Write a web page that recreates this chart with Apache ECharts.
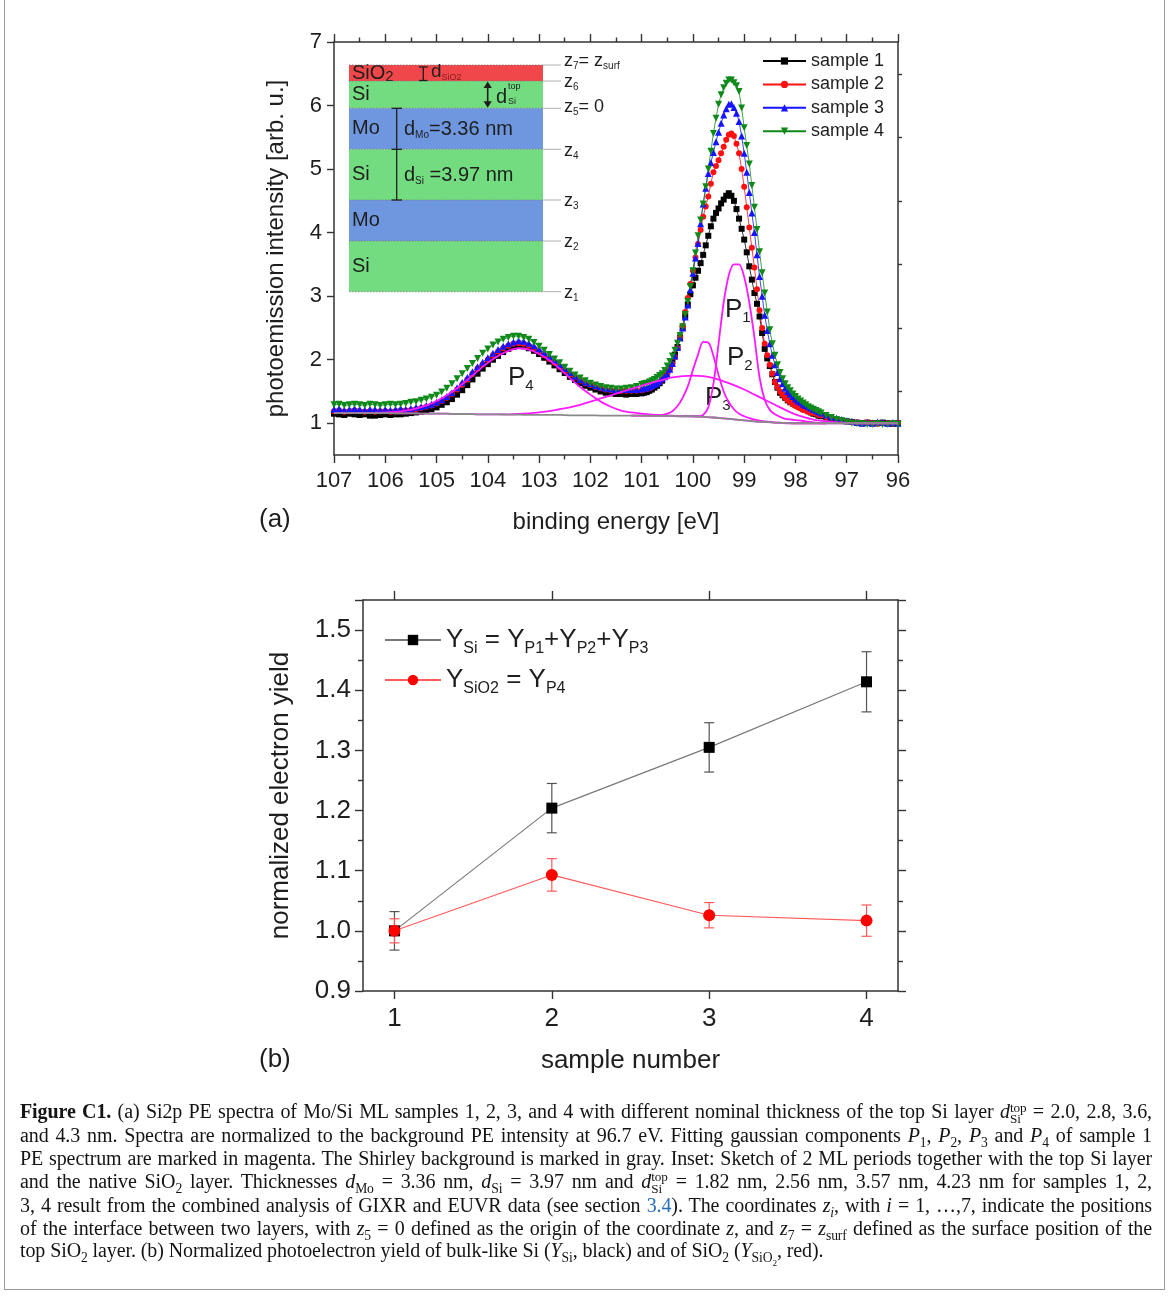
<!DOCTYPE html>
<html>
<head>
<meta charset="utf-8">
<script src="https://cdn.jsdelivr.net/npm/echarts@6/dist/echarts.min.js"></script>
<style>
html, body { margin: 0; padding: 0; background: #fff; }
#wrap { position: relative; width: 1171px; height: 1297px; overflow: hidden; }
#chart { position: absolute; left: 0; top: 0; width: 1171px; height: 1297px; }
#frame { position: absolute; left: 4px; top: -4px; width: 1161px; height: 1294px; border: 1px solid #9a9a9a; box-sizing: border-box; pointer-events: none; }
#caption { position: absolute; left: 20px; top: 1100px; width: 1132px; font-family: "Liberation Serif", "DejaVu Serif", serif; font-size: 20px; line-height: 22.7px; color: #141414; letter-spacing: -0.1px; }
.ln { display: block; white-space: nowrap; text-align: justify; text-align-last: justify; }
.ln.last { text-align-last: left; }
sub, sup { font-size: 0.68em; line-height: 0; }
.ss { display: inline-block; vertical-align: -0.38em; font-size: 0.66em; line-height: 0.85em; text-align: left; }
.ss span { display: block; }
.ref { color: #2a6ebb; }
</style>
</head>
<body>
<div id="wrap">
  <div id="chart"></div>
  <div id="frame"></div>
  <div id="caption">
    <span class="ln"><b>Figure C1.</b> (a) Si2p PE spectra of Mo/Si ML samples 1, 2, 3, and 4 with different nominal thickness of the top Si layer <i>d</i><span class="ss"><span>top</span><span>Si</span></span> = 2.0, 2.8, 3.6,</span>
    <span class="ln">and 4.3 nm. Spectra are normalized to the background PE intensity at 96.7 eV. Fitting gaussian components <i>P</i><sub>1</sub>, <i>P</i><sub>2</sub>, <i>P</i><sub>3</sub> and <i>P</i><sub>4</sub> of sample 1</span>
    <span class="ln">PE spectrum are marked in magenta. The Shirley background is marked in gray. Inset: Sketch of 2 ML periods together with the top Si layer</span>
    <span class="ln">and the native SiO<sub>2</sub> layer. Thicknesses <i>d</i><sub>Mo</sub> = 3.36 nm, <i>d</i><sub>Si</sub> = 3.97 nm and <i>d</i><span class="ss"><span>top</span><span>Si</span></span> = 1.82 nm, 2.56 nm, 3.57 nm, 4.23 nm for samples 1, 2,</span>
    <span class="ln">3, 4 result from the combined analysis of GIXR and EUVR data (see section <span class="ref">3.4</span>). The coordinates <i>z<sub>i</sub></i>, with <i>i</i> = 1, &hellip;,7, indicate the positions</span>
    <span class="ln">of the interface between two layers, with <i>z</i><sub>5</sub> = 0 defined as the origin of the coordinate <i>z</i>, and <i>z</i><sub>7</sub> = <i>z</i><sub>surf</sub> defined as the surface position of the</span>
    <span class="ln last">top SiO<sub>2</sub> layer. (b) Normalized photoelectron yield of bulk-like Si (<i>Y</i><sub>Si</sub>, black) and of SiO<sub>2</sub> (<i>Y</i><sub>SiO<sub>2</sub></sub>, red).</span>
  </div>
</div>
<script>
// sampling grid of the spectra (binding energy, eV, high -> low); finer across the Si2p peak
const grid = (start, stop, step) => {
	const out = [];
	const n = Math.round((start - stop) / step);
	for (let i = 0; i <= n; i++) out.push(+(start - i * step).toFixed(2));
	return out;
};
const specEnergy = [...grid(107, 101.1, 0.1), ...grid(101, 97.5, 0.05), ...grid(97.4, 96, 0.1)];
const fitEnergy = grid(107, 96, 0.2);
const peakEnergy = grid(101.2, 97.4, 0.1);

const sample1 = [
	1.15,1.14,1.13,1.15,1.14,1.13,1.14,1.12,1.12,1.13,
	1.14,1.13,1.14,1.14,1.15,1.16,1.17,1.18,1.20,1.22,
	1.25,1.29,1.33,1.38,1.45,1.52,1.60,1.69,1.78,1.86,
	1.93,2.00,2.06,2.12,2.17,2.20,2.22,2.21,2.18,2.14,
	2.09,2.03,1.97,1.91,1.85,1.79,1.73,1.68,1.63,1.59,
	1.56,1.53,1.50,1.48,1.47,1.46,1.46,1.45,1.46,1.46,
	1.47,1.48,1.49,1.51,1.53,1.56,1.59,1.63,1.67,1.74,
	1.82,1.89,1.98,2.08,2.20,2.35,2.50,2.69,2.87,3.03,
	3.17,3.29,3.40,3.52,3.65,3.80,3.95,4.10,4.22,4.31,
	4.38,4.46,4.52,4.58,4.62,4.58,4.50,4.37,4.22,4.06,
	3.89,3.69,3.47,3.26,3.05,2.88,2.68,2.42,2.17,2.02,
	1.90,1.77,1.65,1.56,1.48,1.44,1.40,1.36,1.33,1.31,
	1.29,1.27,1.25,1.23,1.21,1.19,1.17,1.15,1.14,1.12,
	1.11,
	1.09,1.07,1.05,1.04,1.03,1.02,1.01,1.00,1.01,1.00,1.00,1.01,1.00,0.99,1.00
];
const sample2 = [
	1.19,1.20,1.18,1.19,1.20,1.19,1.18,1.19,1.18,1.19,
	1.19,1.18,1.19,1.20,1.20,1.21,1.22,1.24,1.26,1.28,
	1.31,1.35,1.40,1.46,1.53,1.61,1.69,1.78,1.86,1.93,
	2.00,2.07,2.13,2.18,2.22,2.25,2.26,2.25,2.22,2.18,
	2.13,2.07,2.01,1.95,1.89,1.83,1.77,1.72,1.67,1.63,
	1.60,1.57,1.55,1.53,1.52,1.51,1.51,1.51,1.51,1.51,
	1.52,1.53,1.54,1.55,1.57,1.60,1.62,1.65,1.69,1.73,
	1.78,1.85,1.93,2.04,2.18,2.35,2.53,2.75,2.97,3.19,
	3.40,3.61,3.82,4.04,4.25,4.41,4.57,4.77,4.95,5.05,
	5.14,5.25,5.35,5.46,5.54,5.56,5.52,5.40,5.25,5.00,
	4.72,4.40,4.08,3.76,3.45,3.11,2.78,2.50,2.25,2.07,
	1.92,1.78,1.65,1.57,1.50,1.45,1.40,1.36,1.33,1.30,
	1.27,1.25,1.23,1.21,1.20,1.18,1.17,1.16,1.15,1.13,
	1.12,
	1.10,1.08,1.06,1.05,1.03,1.02,1.01,1.00,1.01,1.00,0.99,1.00,1.00,0.99,1.00
];
const sample3 = [
	1.22,1.23,1.21,1.22,1.23,1.22,1.21,1.22,1.22,1.21,
	1.22,1.21,1.22,1.23,1.22,1.23,1.25,1.26,1.28,1.30,
	1.33,1.37,1.42,1.48,1.56,1.64,1.72,1.81,1.89,1.96,
	2.03,2.10,2.16,2.21,2.25,2.28,2.30,2.29,2.26,2.22,
	2.17,2.11,2.05,1.99,1.92,1.86,1.80,1.74,1.69,1.65,
	1.62,1.59,1.57,1.55,1.54,1.53,1.53,1.53,1.53,1.53,
	1.54,1.55,1.56,1.57,1.59,1.61,1.63,1.66,1.70,1.73,
	1.77,1.85,1.94,2.06,2.19,2.34,2.50,2.67,2.86,3.10,
	3.36,3.60,3.83,4.14,4.45,4.70,4.93,5.10,5.26,5.43,
	5.58,5.72,5.85,5.95,6.02,6.03,5.97,5.88,5.75,5.52,
	5.25,4.95,4.63,4.31,4.00,3.65,3.31,3.00,2.70,2.46,
	2.25,2.07,1.92,1.80,1.70,1.62,1.55,1.50,1.46,1.42,
	1.38,1.35,1.33,1.30,1.28,1.26,1.24,1.22,1.20,1.18,
	1.16,
	1.13,1.10,1.08,1.06,1.04,1.03,1.01,1.00,1.01,1.00,1.02,1.01,1.00,1.01,1.00
];
const sample4 = [
	1.29,1.30,1.28,1.29,1.30,1.29,1.28,1.30,1.29,1.28,
	1.29,1.30,1.29,1.30,1.31,1.33,1.34,1.36,1.38,1.41,
	1.44,1.49,1.55,1.62,1.70,1.78,1.86,1.94,2.02,2.10,
	2.17,2.23,2.28,2.32,2.35,2.37,2.37,2.35,2.32,2.27,
	2.21,2.15,2.08,2.01,1.95,1.88,1.82,1.76,1.71,1.67,
	1.63,1.60,1.58,1.56,1.55,1.54,1.54,1.55,1.56,1.58,
	1.61,1.62,1.63,1.65,1.67,1.69,1.72,1.75,1.78,1.83,
	1.90,1.97,2.06,2.15,2.26,2.38,2.52,2.71,2.92,3.15,
	3.40,3.68,3.95,4.20,4.45,4.72,5.00,5.28,5.56,5.80,
	6.02,6.17,6.28,6.35,6.40,6.40,6.36,6.31,6.22,5.96,
	5.65,5.37,5.08,4.74,4.40,4.05,3.70,3.37,3.05,2.75,
	2.47,2.25,2.07,1.92,1.80,1.70,1.62,1.56,1.51,1.46,
	1.42,1.38,1.35,1.32,1.29,1.26,1.24,1.22,1.20,1.18,
	1.16,
	1.12,1.09,1.06,1.04,1.02,1.00,0.99,0.99,0.98,0.98,0.99,0.98,0.98,0.99,0.98
];

// (a) fit of sample 1: Shirley background and gaussian components
const shirley = [
	1.16,1.16,1.16,1.16,1.16,1.16,1.155,1.155,1.155,1.15,1.15,
	1.15,1.145,1.145,1.14,1.14,1.14,1.135,1.135,1.13,1.13,
	1.13,1.13,1.125,1.125,1.125,1.12,1.12,1.12,1.12,1.12,
	1.115,1.115,1.115,1.11,1.11,1.10,1.09,1.075,1.06,1.045,
	1.03,1.02,1.01,1.005,1.0,1.0,1.0,1.0,1.0,1.0,
	1.0,1.0,1.0,1.0,1.0
];
const fitP4 = [
	1.16,1.16,1.16,1.162,1.165,1.17,1.18,1.20,1.23,1.28,1.35,
	1.44,1.55,1.68,1.82,1.95,2.06,2.14,2.18,2.16,2.09,
	1.99,1.86,1.71,1.57,1.45,1.34,1.26,1.20,1.17,1.15,
	1.135,1.125,1.12,1.112,1.11,1.10,1.09,1.075,1.06,1.045,
	1.03,1.02,1.01,1.005,1.0,1.0,1.0,1.0,1.0,1.0,
	1.0,1.0,1.0,1.0,1.0
];
const fitP3 = [
	1.16,1.16,1.16,1.16,1.16,1.16,1.155,1.155,1.155,1.15,1.15,
	1.15,1.145,1.145,1.14,1.14,1.14,1.14,1.145,1.155,1.17,
	1.19,1.22,1.25,1.29,1.34,1.39,1.44,1.49,1.54,1.59,
	1.64,1.68,1.72,1.74,1.75,1.74,1.71,1.66,1.60,1.53,
	1.45,1.37,1.29,1.21,1.14,1.09,1.05,1.03,1.015,1.005,
	1.0,1.0,1.0,1.0,1.0
];
const fitP2 = [
	1.12,1.12,1.12,1.12,1.12,1.125,1.13,1.15,1.19,1.27,
	1.40,1.58,1.84,2.08,2.28,2.27,2.06,1.76,1.50,1.33,
	1.22,1.15,1.11,1.08,1.06,1.04,1.03,1.02,1.01,1.01,
	1.0,1.0,1.0,1.0,1.0,1.0,1.0,1.0,1.0
];
const fitP1 = [
	1.12,1.12,1.12,1.12,1.12,1.12,1.115,1.115,1.115,1.11,
	1.11,1.11,1.11,1.11,1.13,1.25,1.62,2.25,2.90,3.33,
	3.50,3.50,3.30,2.90,2.35,1.72,1.37,1.21,1.14,1.10,
	1.07,1.06,1.05,1.04,1.03,1.02,1.01,1.0,1.0
];

// (b) normalized photoelectron yield
const sampleNumber = [1, 2, 3, 4];
const yieldSi = [1.000, 1.204, 1.305, 1.414];
const errSi = [0.032, 0.041, 0.041, 0.050];
const yieldSiO2 = [1.000, 1.093, 1.026, 1.017];
const errSiO2 = [0.020, 0.027, 0.021, 0.026];

const FONT = '"Liberation Sans", Arial, sans-serif';
const INK = '#1e1e1e';
const AXIS = '#333';
const MAGENTA = '#ff1aff';

const pairs = (xs, ys) => xs.map((x, i) => [x, ys[i]]);

const chart = echarts.init(document.getElementById('chart'), null, {renderer: 'canvas'});

function spectrum(name, values, color, symbol, size) {
	return {
		name: name,
		type: 'line',
		xAxisIndex: 0,
		yAxisIndex: 0,
		data: pairs(specEnergy, values),
		symbol: symbol,
		symbolSize: size,
		itemStyle: {color: color},
		lineStyle: {color: color, width: 0.8},
		z: 2,
	};
}

function fitLine(name, xs, values, color, z) {
	return {
		name: name,
		type: 'line',
		xAxisIndex: 0,
		yAxisIndex: 0,
		data: pairs(xs, values),
		showSymbol: false,
		smooth: 0.3,
		lineStyle: {color: color, width: 1.8},
		z: z,
		silent: true,
	};
}

function errorBars(name, ys, errs, color) {
	return {
		name: name,
		type: 'custom',
		xAxisIndex: 2,
		yAxisIndex: 3,
		data: sampleNumber.map((x, i) => [x, ys[i], errs[i]]),
		encode: {x: 0, y: 1},
		z: 1,
		renderItem: (params, api) => {
			const x = api.value(0), y = api.value(1), e = api.value(2);
			const hi = api.coord([x, y + e]);
			const lo = api.coord([x, y - e]);
			const w = 5;
			const style = {stroke: color, lineWidth: 1.2};
			return {
				type: 'group',
				children: [
					{type: 'line', shape: {x1: hi[0], y1: hi[1], x2: lo[0], y2: lo[1]}, style: style},
					{type: 'line', shape: {x1: hi[0] - w, y1: hi[1], x2: hi[0] + w, y2: hi[1]}, style: style},
					{type: 'line', shape: {x1: lo[0] - w, y1: lo[1], x2: lo[0] + w, y2: lo[1]}, style: style},
				]
			};
		}
	};
}

const axisLine = {show: true, lineStyle: {color: AXIS, width: 1.5}};
const tickStyle = {color: AXIS, width: 1.4};

// --- inset sketch of the multilayer (decoration, fixed pixel layout) ---
function insetGraphics() {
	const L = 349, R = 543, EXT = 561;
	const layers = [
		['SiO', '2', '#f0474a', 65, 81],
		['Si', '', '#73dc80', 81, 108.3],
		['Mo', '', '#6f97df', 108.3, 149.3],
		['Si', '', '#73dc80', 149.3, 200],
		['Mo', '', '#6f97df', 200, 241],
		['Si', '', '#73dc80', 241, 291.7],
	];
	const els = [];
	layers.forEach(([t, sub, fill, y0, y1]) => {
		els.push({type: 'rect', shape: {x: L, y: y0, width: R - L, height: y1 - y0}, style: {fill: fill}});
		els.push({
			type: 'text', x: L + 3, y: (y0 + y1) / 2,
			style: {
				text: sub ? `{t|${t}}{s|${sub}}` : `{t|${t}}`,
				verticalAlign: 'middle', align: 'left',
				rich: {
					t: {fontSize: 20, fontFamily: FONT, fill: INK, lineHeight: 22},
					s: {fontSize: 15, fontFamily: FONT, fill: INK, lineHeight: 15, verticalAlign: 'bottom'},
				}
			}
		});
	});
	const bounds = [65, 81, 108.3, 149.3, 200, 241, 291.7];
	bounds.forEach(y => {
		els.push({type: 'line', shape: {x1: L, y1: y, x2: R, y2: y}, style: {stroke: '#7a7a7a', lineWidth: 0.8, lineDash: [1.5, 1.5]}});
		els.push({type: 'line', shape: {x1: R, y1: y, x2: EXT, y2: y}, style: {stroke: '#999', lineWidth: 0.8}});
	});
	const zrich = {
		z: {fontSize: 18, fontFamily: FONT, fill: INK, lineHeight: 20},
		zs: {fontSize: 10, fontFamily: FONT, fill: INK, lineHeight: 10, verticalAlign: 'bottom'},
		e: {fontSize: 18, fontFamily: FONT, fill: INK, lineHeight: 20},
	};
	const zlabels = [
		['{z|z}{zs|7}{e|= }{z|z}{zs|surf}', 61.5],
		['{z|z}{zs|6}', 82],
		['{z|z}{zs|5}{e|= 0}', 107],
		['{z|z}{zs|4}', 151],
		['{z|z}{zs|3}', 201],
		['{z|z}{zs|2}', 242],
		['{z|z}{zs|1}', 293],
	];
	zlabels.forEach(([t, y]) => {
		els.push({type: 'text', x: 564, y: y, style: {text: t, rich: zrich, verticalAlign: 'middle', align: 'left'}});
	});
	const ink = {stroke: INK, lineWidth: 1.3};
	// d_SiO2 bar
	els.push({type: 'line', shape: {x1: 423.3, y1: 67, x2: 423.3, y2: 80.5}, style: ink});
	els.push({type: 'line', shape: {x1: 419, y1: 67, x2: 427.6, y2: 67}, style: ink});
	els.push({type: 'line', shape: {x1: 419, y1: 80.5, x2: 427.6, y2: 80.5}, style: ink});
	els.push({
		type: 'text', x: 431, y: 72,
		style: {
			text: '{d|d}{s|SiO2}', verticalAlign: 'middle', align: 'left',
			rich: {
				d: {fontSize: 19, fontFamily: FONT, fill: INK, lineHeight: 20},
				s: {fontSize: 9, fontFamily: FONT, fill: '#8a1c1c', lineHeight: 9, verticalAlign: 'bottom'},
			}
		}
	});
	// d_Si^top double arrow
	els.push({type: 'line', shape: {x1: 487.7, y1: 86, x2: 487.7, y2: 103}, style: {stroke: INK, lineWidth: 1.6}});
	els.push({type: 'polygon', shape: {points: [[487.7, 81.5], [483.6, 88], [491.8, 88]]}, style: {fill: INK}});
	els.push({type: 'polygon', shape: {points: [[487.7, 107.8], [483.6, 101.3], [491.8, 101.3]]}, style: {fill: INK}});
	els.push({type: 'text', x: 496, y: 97, style: {text: 'd', fontSize: 20, fontFamily: FONT, fill: INK, verticalAlign: 'middle', align: 'left'}});
	els.push({type: 'text', x: 508, y: 87, style: {text: 'top', fontSize: 9, fontFamily: FONT, fill: INK, verticalAlign: 'middle', align: 'left'}});
	els.push({type: 'text', x: 508, y: 102, style: {text: 'Si', fontSize: 9, fontFamily: FONT, fill: INK, verticalAlign: 'middle', align: 'left'}});
	// d_Mo / d_Si bars
	els.push({type: 'line', shape: {x1: 396.7, y1: 108.3, x2: 396.7, y2: 200}, style: ink});
	[108.3, 149.3, 200].forEach(y => {
		els.push({type: 'line', shape: {x1: 391.5, y1: y, x2: 402, y2: y}, style: ink});
	});
	const drich = {
		d: {fontSize: 20, fontFamily: FONT, fill: INK, lineHeight: 22},
		s: {fontSize: 10, fontFamily: FONT, fill: INK, lineHeight: 12, verticalAlign: 'bottom'},
	};
	els.push({type: 'text', x: 404, y: 129, style: {text: '{d|d}{s|Mo}{d|=3.36 nm}', rich: drich, verticalAlign: 'middle', align: 'left'}});
	els.push({type: 'text', x: 404, y: 175.5, style: {text: '{d|d}{s|Si}{d| =3.97 nm}', rich: drich, verticalAlign: 'middle', align: 'left'}});
	return els;
}

function peakLabels() {
	const rich = {
		p: {fontSize: 26, fontFamily: FONT, fill: INK, lineHeight: 30},
		s: {fontSize: 15, fontFamily: FONT, fill: INK, lineHeight: 15, verticalAlign: 'bottom'},
	};
	const spots = [['1', 725, 310], ['2', 727, 358], ['3', 705, 398], ['4', 508, 378]];
	return spots.map(([n, x, y]) => ({
		type: 'text', x: x, y: y,
		style: {text: `{p|P}{s|${n}}`, rich: rich, verticalAlign: 'middle', align: 'left'}
	}));
}

const panelLetters = [
	{type: 'text', x: 259, y: 520, style: {text: '(a)', fontSize: 26, fontFamily: FONT, fill: INK, verticalAlign: 'middle', align: 'left'}},
	{type: 'text', x: 259, y: 1060, style: {text: '(b)', fontSize: 26, fontFamily: FONT, fill: INK, verticalAlign: 'middle', align: 'left'}},
];

const option = {
	animation: false,
	backgroundColor: '#fff',
	textStyle: {fontFamily: FONT, color: INK},
	grid: [
		{left: 334, top: 42, width: 564, height: 413},
		{left: 363, top: 600, width: 535, height: 391},
	],
	legend: [
		{
			data: ['sample 1', 'sample 2', 'sample 3', 'sample 4'],
			orient: 'vertical', left: 762, top: 52, padding: 0,
			itemWidth: 43, itemHeight: 9, itemGap: 5.4,
			textStyle: {fontSize: 18, color: INK, lineHeight: 18, fontFamily: FONT},
			selectedMode: false,
		},
		{
			data: ['Y_Si', 'Y_SiO2'],
			orient: 'vertical', left: 384, top: 627, padding: 0,
			itemWidth: 56, itemHeight: 13, itemGap: 10,
			selectedMode: false,
			formatter: name => name === 'Y_Si'
				? '{m|Y}{s|Si}{m| = Y}{s|P1}{m|+Y}{s|P2}{m|+Y}{s|P3}'
				: '{m|Y}{s|SiO2}{m| = Y}{s|P4}',
			textStyle: {
				color: INK,
				rich: {
					m: {fontSize: 26, lineHeight: 34, color: INK, fontFamily: FONT},
					s: {fontSize: 16, lineHeight: 16, color: INK, fontFamily: FONT, verticalAlign: 'bottom'},
				}
			}
		}
	],
	xAxis: [
		{
			gridIndex: 0, type: 'value', min: 96, max: 107, inverse: true, interval: 1,
			axisLine: axisLine,
			axisTick: {length: 8, lineStyle: tickStyle},
			minorTick: {show: true, splitNumber: 2, length: 4.5, lineStyle: tickStyle},
			axisLabel: {fontSize: 22, color: INK, margin: 15},
			splitLine: {show: false}, minorSplitLine: {show: false},
			name: 'binding energy [eV]', nameLocation: 'middle', nameGap: 55,
			nameTextStyle: {fontSize: 24, color: INK},
		},
		{
			gridIndex: 0, type: 'value', position: 'top', min: 96, max: 107, inverse: true, interval: 1,
			axisLine: axisLine,
			axisTick: {length: 8, lineStyle: tickStyle},
			minorTick: {show: true, splitNumber: 2, length: 4.5, lineStyle: tickStyle},
			axisLabel: {show: false},
			splitLine: {show: false},
		},
		{
			gridIndex: 1, type: 'value', min: 0.8, max: 4.2,
			axisLine: axisLine,
			axisTick: {length: 8, lineStyle: tickStyle, customValues: sampleNumber},
			axisLabel: {fontSize: 26, color: INK, margin: 15, customValues: sampleNumber},
			splitLine: {show: false},
			name: 'sample number', nameLocation: 'middle', nameGap: 57,
			nameTextStyle: {fontSize: 26, color: INK},
		},
		{
			gridIndex: 1, type: 'value', position: 'top', min: 0.8, max: 4.2,
			axisLine: axisLine,
			axisTick: {length: 9, lineStyle: tickStyle, customValues: sampleNumber},
			axisLabel: {show: false},
			splitLine: {show: false},
		},
	],
	yAxis: [
		{
			gridIndex: 0, type: 'value', min: 0.5, max: 7,
			axisLine: axisLine,
			axisTick: {length: 7, lineStyle: tickStyle, customValues: [1, 2, 3, 4, 5, 6, 7]},
			axisLabel: {fontSize: 22, color: INK, margin: 12, customValues: [1, 2, 3, 4, 5, 6, 7]},
			splitLine: {show: false},
			name: 'photoemission intensity [arb. u.]', nameLocation: 'middle', nameGap: 46,
			nameTextStyle: {fontSize: 24, color: INK},
		},
		{
			gridIndex: 0, type: 'value', min: 0.5, max: 7,
			axisLine: {show: false},
			axisTick: {length: 4, lineStyle: tickStyle, customValues: [1.5, 2.5, 3.5, 4.5, 5.5, 6.5]},
			axisLabel: {show: false},
			splitLine: {show: false},
		},
		{
			gridIndex: 0, type: 'value', position: 'right', min: 0.5, max: 7,
			axisLine: axisLine, axisTick: {show: false}, axisLabel: {show: false}, splitLine: {show: false},
		},
		{
			gridIndex: 1, type: 'value', min: 0.9, max: 1.55, interval: 0.1,
			axisLine: axisLine,
			axisTick: {length: 8, lineStyle: tickStyle},
			minorTick: {show: true, splitNumber: 2, length: 5, lineStyle: tickStyle},
			axisLabel: {fontSize: 26, color: INK, margin: 12, showMaxLabel: false, formatter: v => v.toFixed(1)},
			splitLine: {show: false}, minorSplitLine: {show: false},
			name: 'normalized electron yield', nameLocation: 'middle', nameGap: 69,
			nameTextStyle: {fontSize: 26, color: INK},
		},
		{
			gridIndex: 1, type: 'value', position: 'right', min: 0.9, max: 1.55, interval: 0.1,
			axisLine: axisLine,
			axisTick: {length: 8, lineStyle: tickStyle},
			minorTick: {show: true, splitNumber: 2, length: 5, lineStyle: tickStyle},
			axisLabel: {show: false},
			splitLine: {show: false}, minorSplitLine: {show: false},
		},
	],
	series: [
		spectrum('sample 1', sample1, '#000000', 'rect', 6),
		spectrum('sample 2', sample2, '#ff1010', 'circle', 6),
		spectrum('sample 3', sample3, '#1414ff', 'triangle', 7),
		spectrum('sample 4', sample4, '#0f8a1a', 'path://M0,0L10,0L5,9Z', 7),
		fitLine('P4', fitEnergy, fitP4, MAGENTA, 3),
		fitLine('P3', fitEnergy, fitP3, MAGENTA, 3),
		fitLine('P2', peakEnergy, fitP2, MAGENTA, 3),
		fitLine('P1', peakEnergy, fitP1, MAGENTA, 3),
		fitLine('Shirley background', fitEnergy, shirley, '#8a8a8a', 4),
		errorBars('Y_Si error', yieldSi, errSi, '#555'),
		errorBars('Y_SiO2 error', yieldSiO2, errSiO2, '#ff5a5a'),
		{
			name: 'Y_Si', type: 'line', xAxisIndex: 2, yAxisIndex: 3,
			data: pairs(sampleNumber, yieldSi),
			symbol: 'rect', symbolSize: 11,
			itemStyle: {color: '#000'},
			lineStyle: {color: '#777', width: 1.1},
			z: 3,
		},
		{
			name: 'Y_SiO2', type: 'line', xAxisIndex: 2, yAxisIndex: 3,
			data: pairs(sampleNumber, yieldSiO2),
			symbol: 'circle', symbolSize: 12,
			itemStyle: {color: '#ff0000'},
			lineStyle: {color: '#ff5a5a', width: 1.1},
			z: 4,
		},
	],
	graphic: {elements: [...insetGraphics(), ...peakLabels(), ...panelLetters]},
};

chart.setOption(option);
</script>
</body>
</html>
